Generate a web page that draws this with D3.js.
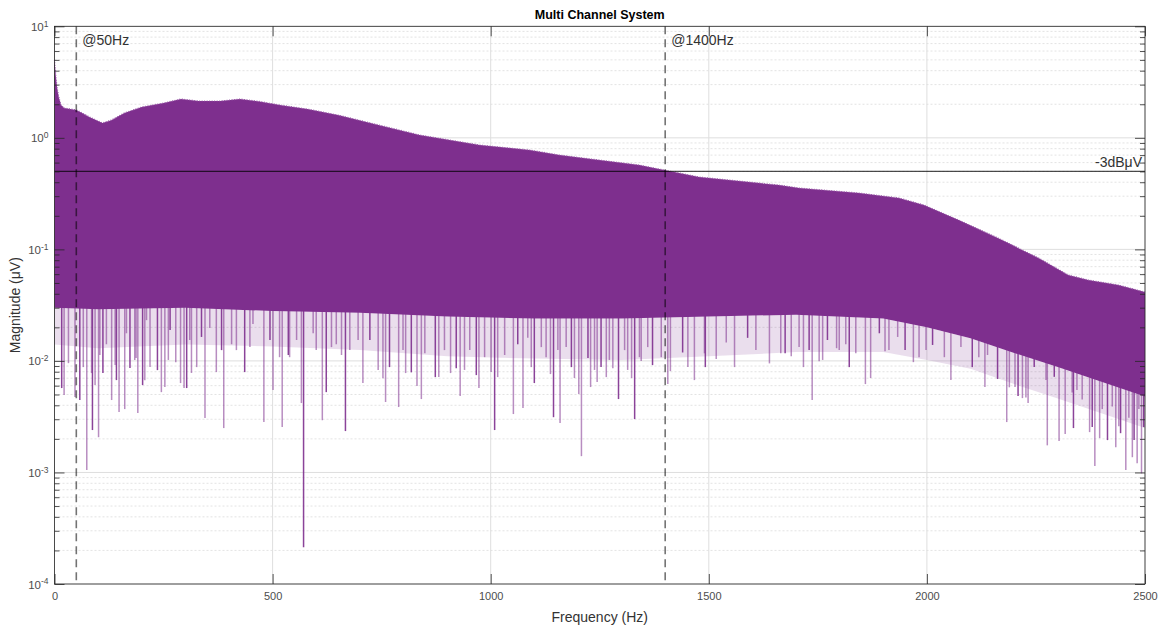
<!DOCTYPE html>
<html><head><meta charset="utf-8">
<script src="https://cdn.jsdelivr.net/npm/d3@7"></script>
<style>
body{margin:0;background:#fff;}
svg{font-family:"Liberation Sans",Arial,Helvetica,sans-serif;}
</style></head>
<body>
<svg id="c" width="1163" height="631"></svg>
<script>
// ---- data ----
const title = "Multi Channel System";
const xTicks = [0, 500, 1000, 1500, 2000, 2500];
const yDecades = [-4, -3, -2, -1, 0, 1];
const markerFreqs = [50, 1400];
const markerLabels = ["@50Hz", "@1400Hz"];
const refLevel = 0.5;
const refLabel = "-3dBμV";
// upper envelope of the spectrum
const envFreq = [0, 3, 6, 10, 15, 22, 50, 60, 80, 110, 130, 160, 200, 250, 290, 330, 380, 425, 470, 520, 580, 650, 745, 837, 975, 1089, 1158, 1249, 1341, 1398, 1478, 1661, 1707, 1845, 1936, 1993, 2073, 2164, 2256, 2324, 2370, 2439, 2500];
const envMag  = [5.0, 3.6, 2.8, 2.3, 1.97, 1.85, 1.78, 1.70, 1.54, 1.36, 1.44, 1.67, 1.89, 2.05, 2.23, 2.14, 2.14, 2.23, 2.12, 1.96, 1.81, 1.60, 1.30, 1.06, 0.861, 0.778, 0.70, 0.632, 0.57, 0.514, 0.445, 0.377, 0.355, 0.32, 0.289, 0.25, 0.183, 0.126, 0.0836, 0.0589, 0.0531, 0.0479, 0.0414];
// bottom of the solid core, and bottom of the mixed fringe below it
const floorFreq = [0, 100, 300, 500, 700, 900, 1100, 1300, 1500, 1700, 1900, 2000, 2100, 2200, 2300, 2400, 2500];
const floorMag  = [0.03, 0.029, 0.03, 0.028, 0.027, 0.025, 0.024, 0.024, 0.025, 0.026, 0.024, 0.02, 0.016, 0.0118, 0.0088, 0.0065, 0.0048];
const fringeMag = [0.014, 0.013, 0.014, 0.0135, 0.0125, 0.011, 0.0105, 0.0102, 0.011, 0.012, 0.012, 0.0102, 0.0085, 0.0062, 0.0046, 0.0034, 0.0025];
// downward spikes: frequency and minimum magnitude
const dipFreq = [16.5, 22, 32, 47, 58, 66, 74, 85, 87, 93, 101, 104, 111, 119, 131, 139, 142, 148, 161, 165, 173, 184, 187, 191, 202, 207, 211, 219, 236, 245, 253, 261, 265, 278, 289, 297, 303, 310, 314, 326, 337, 345, 356, 371, 383, 388, 406, 417, 436, 448, 455, 480, 494, 501, 516, 522, 536, 539, 555, 566, 571, 593, 600, 614, 623, 635, 646, 658, 667, 677, 696, 707, 723, 742, 753, 759, 768, 789, 799, 805, 818, 831,
  841, 849, 873, 881, 894, 908, 921, 930, 940, 952, 967, 973, 986, 1001, 1009, 1016, 1032, 1052, 1062, 1074, 1085, 1093, 1100, 1116, 1127, 1137, 1144, 1154, 1159, 1173, 1185, 1192, 1202, 1208, 1223, 1229, 1238, 1244, 1253, 1265, 1272, 1280, 1293, 1307, 1314, 1323, 1330, 1341, 1345, 1360, 1371, 1391, 1406, 1412, 1440, 1452, 1467, 1490, 1492, 1517, 1540, 1559, 1589, 1608, 1639, 1665,
  1675, 1689, 1707, 1717, 1730, 1737, 1753, 1761, 1772, 1793, 1799, 1814, 1822, 1837, 1859, 1871, 1891, 1904, 1913, 1933, 1950, 1969, 1982, 1998, 2013, 2040, 2055, 2078, 2104, 2119, 2133, 2139, 2162, 2183, 2189, 2202, 2209, 2219, 2227, 2232, 2246, 2253, 2273, 2276, 2292, 2303, 2317, 2333, 2336, 2344, 2356, 2373, 2379, 2385, 2396, 2402, 2414, 2425, 2433, 2440, 2444, 2456, 2463, 2471, 2475, 2482, 2486, 2492, 2497];
const dipMag = [0.00571, 0.00494, 0.00955, 0.00474, 0.00446, 0.0088, 0.00105, 0.00778, 0.0024, 0.00607, 0.00207, 0.0113, 0.00778, 0.0141, 0.00446, 0.0092, 0.00673, 0.00348, 0.0037, 0.0177, 0.00862, 0.0102, 0.0106, 0.00341, 0.00607, 0.0067, 0.0232, 0.0088, 0.00827, 0.00525, 0.00583, 0.0102, 0.0189, 0.00975, 0.00633, 0.00571, 0.00571, 0.0154, 0.0078, 0.0088, 0.0164, 0.00307, 0.0197, 0.00794, 0.0125, 0.0025, 0.0141, 0.0125, 0.00794, 0.0133, 0.0214, 0.00283, 0.0154, 0.00548, 0.0108, 0.00255, 0.0113, 0.0108, 0.0154, 0.00419, 0.000214, 0.0177, 0.0125, 0.00294, 0.00525, 0.0133, 0.0141, 0.0113, 0.00235, 0.0125, 0.0154, 0.00633, 0.0154, 0.0083, 0.007, 0.00428, 0.0088, 0.00386, 0.0125, 0.00778, 0.0079, 0.00595,
  0.00455, 0.0117, 0.00716, 0.00716, 0.0125, 0.00778, 0.0086, 0.00484, 0.0083, 0.0125, 0.00746, 0.00571, 0.0108, 0.00794, 0.0024, 0.00716, 0.0113, 0.00334, 0.0141, 0.00378, 0.0161, 0.0088, 0.00633, 0.0133, 0.0108, 0.00762, 0.00313, 0.0125, 0.00277, 0.0133, 0.0088, 0.00702, 0.00504, 0.0014, 0.0106, 0.00583, 0.0083, 0.00646, 0.0088, 0.00716, 0.0102, 0.0086, 0.00455, 0.0125, 0.0083, 0.00702, 0.00301, 0.0108, 0.01, 0.0133, 0.00917, 0.0108, 0.0062, 0.0081, 0.0119, 0.0088, 0.00673, 0.0117, 0.0088, 0.0104, 0.0146, 0.0088, 0.0161, 0.0125, 0.0095, 0.0117,
  0.0117, 0.011, 0.0133, 0.0088, 0.0125, 0.00446, 0.00995, 0.0102, 0.0154, 0.013, 0.0125, 0.0141, 0.0088, 0.0117, 0.0062, 0.00702, 0.0177, 0.0122, 0.0125, 0.0164, 0.0125, 0.00975, 0.0108, 0.0125, 0.0139, 0.0108, 0.00673, 0.0133, 0.0088, 0.0108, 0.00583, 0.0113, 0.00688, 0.00283, 0.0058, 0.00583, 0.00484, 0.00464, 0.0047, 0.00419, 0.0088, 0.0102, 0.00673, 0.00175, 0.0072, 0.00191, 0.00221, 0.0052, 0.0025, 0.00548, 0.0045, 0.0023, 0.00255, 0.00114, 0.00203, 0.0037, 0.00195, 0.0039, 0.00168, 0.0026, 0.00225, 0.00105, 0.0031, 0.00137, 0.00195, 0.00121, 0.0037, 0.00098, 0.00255];

// ---- layout ----
const svg = d3.select("#c");
const L = 54.5, R = 1145, T = 26.3, B = 584;
const x = d3.scaleLinear().domain([0, 2500]).range([L, R]);
const y = d3.scaleLog().domain([1e-4, 10]).range([B, T]);
const purple = "#7E2F8E";
const axisCol = "#4d4d4d";

const majors = yDecades.map(e => Math.pow(10, e));
const minors = [];
yDecades.slice(0, -1).forEach(e => { for (let m = 2; m <= 9; m++) minors.push(m * Math.pow(10, e)); });

// grid
const g = svg.append("g");
g.selectAll("line.ymin").data(minors).join("line")
  .attr("x1", L).attr("x2", R).attr("y1", d => y(d)).attr("y2", d => y(d))
  .attr("stroke", "#dcdcdc").attr("stroke-width", 0.8).attr("stroke-dasharray", "2,2");
g.selectAll("line.ymaj").data(majors).join("line")
  .attr("x1", L).attr("x2", R).attr("y1", d => y(d)).attr("y2", d => y(d))
  .attr("stroke", "#dedede").attr("stroke-width", 1);
g.selectAll("line.xmaj").data(xTicks).join("line")
  .attr("x1", d => x(d)).attr("x2", d => x(d)).attr("y1", T).attr("y2", B)
  .attr("stroke", "#dedede").attr("stroke-width", 1);

// spectrum
const env = envFreq.map((f, i) => [f, envMag[i]]);
const flo = floorFreq.map((f, i) => [f, floorMag[i]]);
const fr  = floorFreq.map((f, i) => [f, fringeMag[i]]);
const line = d3.line().x(d => x(d[0])).y(d => y(d[1]));
const plot = svg.append("g");

// faint mixed fringe under the core
plot.append("path").attr("d", line(flo.concat(fr.slice().reverse())) + "Z")
  .attr("fill", purple).attr("fill-opacity", 0.16);

// spikes
const floorAt = d3.scaleLinear().domain(floorFreq).range(floorMag);
const envAt = d3.scaleLinear().domain(envFreq).range(envMag);
plot.selectAll("line.dip").data(dipFreq.map((f, i) => [f, dipMag[i]])).join("line")
  .attr("x1", d => x(d[0])).attr("x2", d => x(d[0]))
  .attr("y1", d => y(Math.min(envAt(d[0]), floorAt(d[0]) * 2)))
  .attr("y2", d => y(d[1]))
  .attr("stroke", purple).attr("stroke-width", 1.5)
  .attr("stroke-opacity", (d, i) => (i % 4 === 0 ? 0.9 : 0.55));

// solid core
plot.append("path").attr("d", line(env.concat(flo.slice().reverse())) + "Z").attr("fill", purple);
plot.append("path").attr("d", line(env)).attr("fill", "none")
  .attr("stroke", "#9a5aa8").attr("stroke-width", 1.2).attr("stroke-dasharray", "1,1.5");

// reference lines
svg.append("line").attr("x1", L).attr("x2", R).attr("y1", y(refLevel)).attr("y2", y(refLevel))
  .attr("stroke", "#000").attr("stroke-opacity", 0.7).attr("stroke-width", 1.2);
svg.selectAll("line.mk").data(markerFreqs).join("line")
  .attr("x1", d => x(d)).attr("x2", d => x(d)).attr("y1", T).attr("y2", B)
  .attr("stroke", "#000").attr("stroke-opacity", 0.55).attr("stroke-width", 1.6)
  .attr("stroke-dasharray", "8,5");
svg.selectAll("text.mk").data(markerFreqs).join("text")
  .attr("x", d => x(d) + 6).attr("y", 45).attr("font-size", 14).attr("fill", "#333")
  .text((d, i) => markerLabels[i]);
svg.append("text").attr("x", R - 3).attr("y", y(refLevel) - 4).attr("text-anchor", "end")
  .attr("font-size", 14).attr("fill", "#333").text(refLabel);

// axes
function style(sel) {
  sel.select(".domain").remove();
  sel.selectAll("line").attr("stroke", "#262626").attr("stroke-width", 0.8);
  sel.selectAll("text").attr("fill", axisCol).attr("font-size", 11).attr("font-family", "Liberation Sans, Arial, sans-serif");
}
svg.append("g").attr("transform", `translate(0,${B})`)
  .call(d3.axisBottom(x).tickValues(xTicks).tickSize(-10).tickPadding(8).tickFormat(d3.format("d"))).call(style);
svg.append("g").attr("transform", `translate(0,${T})`)
  .call(d3.axisTop(x).tickValues(xTicks).tickSize(-10).tickFormat("")).call(style);
const yl = svg.append("g").attr("transform", `translate(${L},0)`)
  .call(d3.axisLeft(y).tickValues(majors).tickSize(-10).tickPadding(6).tickFormat(""));
yl.call(style);
yl.selectAll(".tick text").each(function (d) {
  const t = d3.select(this);
  t.attr("dy", "0.35em").attr("font-size", 11.5);
  t.append("tspan").text("10");
  t.append("tspan").attr("dy", "-0.5em").attr("font-size", 8.5).text(Math.round(Math.log10(d)));
});
svg.append("g").attr("transform", `translate(${L},0)`)
  .call(d3.axisLeft(y).tickValues(minors).tickSize(-5).tickFormat("")).call(style);
svg.append("g").attr("transform", `translate(${R},0)`)
  .call(d3.axisRight(y).tickValues(majors).tickSize(-10).tickFormat("")).call(style);
svg.append("g").attr("transform", `translate(${R},0)`)
  .call(d3.axisRight(y).tickValues(minors).tickSize(-5).tickFormat("")).call(style);

// box
svg.append("rect").attr("x", L).attr("y", T).attr("width", R - L).attr("height", B - T)
  .attr("fill", "none").attr("stroke", "#262626").attr("stroke-width", 0.8);

// labels
svg.append("text").attr("x", (L + R) / 2).attr("y", 19).attr("text-anchor", "middle")
  .attr("font-size", 12.5).attr("font-weight", "bold").attr("fill", "#000").text(title);
svg.append("text").attr("x", (L + R) / 2).attr("y", 622).attr("text-anchor", "middle")
  .attr("font-size", 14).attr("fill", "#333").text("Frequency (Hz)");
svg.append("text").attr("transform", `translate(20,${(T + B) / 2}) rotate(-90)`).attr("text-anchor", "middle")
  .attr("font-size", 14).attr("fill", "#333").text("Magnitude (μV)");
</script>
</body></html>
